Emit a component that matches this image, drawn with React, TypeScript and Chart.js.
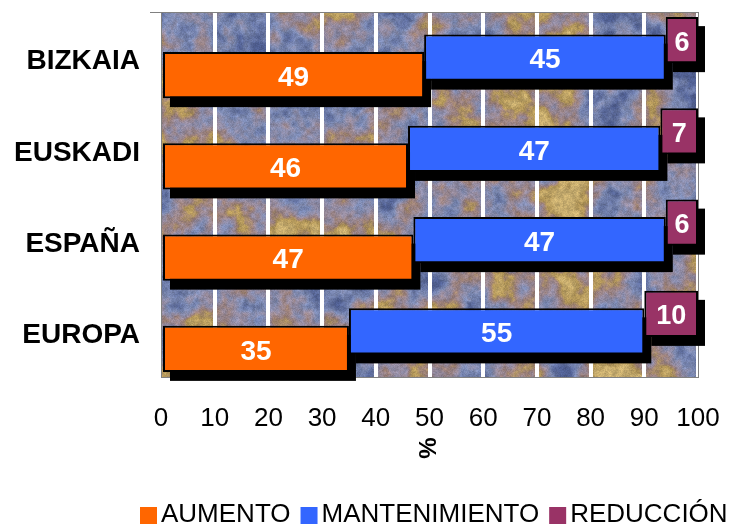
import React, { useEffect, useRef } from 'react';
import { Chart, registerables } from 'chart.js';

Chart.register(...registerables);

// ---- data ----
const categories = ['BIZKAIA', 'EUSKADI', 'ESPAÑA', 'EUROPA'];
const aumento = [49, 46, 47, 35];
const mantenimiento = [45, 47, 47, 55];
const reduccion = [6, 7, 6, 10];
const seriesNames = ['AUMENTO', 'MANTENIMIENTO', 'REDUCCIÓN'];
const seriesColors = ['#FF6600', '#3366FF', '#993366'];
const xTickMin = 0;
const xTickMax = 100;
const xTickStep = 10;
const axisTitle = '%';

const FONT = '"Liberation Sans", Arial, Helvetica, sans-serif';

// ---- decorative stone-like texture (deterministic value noise) ----
function hash(x: number, y: number, s: number) {
  const v = Math.sin(x * 127.1 + y * 311.7 + s * 74.7) * 43758.5453;
  return v - Math.floor(v);
}
function vnoise(x: number, y: number, s: number) {
  const ix = Math.floor(x), iy = Math.floor(y);
  const fx = x - ix, fy = y - iy;
  const ux = fx * fx * (3 - 2 * fx), uy = fy * fy * (3 - 2 * fy);
  const a = hash(ix, iy, s), b = hash(ix + 1, iy, s), c = hash(ix, iy + 1, s), d = hash(ix + 1, iy + 1, s);
  return a + (b - a) * ux + (c - a) * uy + (a - b - c + d) * ux * uy;
}
function fbm(x: number, y: number, s: number) {
  let v = 0, amp = 0.5, f = 1;
  for (let o = 0; o < 5; o++) {
    v += amp * vnoise(x * f, y * f, s + o * 13);
    f *= 2;
    amp *= 0.5;
  }
  return v / 0.96875;
}
const palette: [number, number, number, number][] = [
  [0.0, 80, 95, 145],
  [0.3, 125, 138, 178],
  [0.5, 148, 138, 158],
  [0.66, 155, 128, 122],
  [0.82, 178, 150, 88],
  [1.0, 198, 172, 110],
];
function paletteAt(t: number) {
  for (let i = 1; i < palette.length; i++) {
    if (t <= palette[i][0]) {
      const p0 = palette[i - 1], p1 = palette[i];
      const k = (t - p0[0]) / (p1[0] - p0[0]);
      return [p0[1] + (p1[1] - p0[1]) * k, p0[2] + (p1[2] - p0[2]) * k, p0[3] + (p1[3] - p0[3]) * k];
    }
  }
  const l = palette[palette.length - 1];
  return [l[1], l[2], l[3]];
}
let textureCache: HTMLCanvasElement | null = null;
function getTexture(w: number, h: number) {
  if (textureCache && textureCache.width === w && textureCache.height === h) return textureCache;
  const c = document.createElement('canvas');
  c.width = w;
  c.height = h;
  const cx = c.getContext('2d')!;
  const img = cx.createImageData(w, h);
  for (let y = 0; y < h; y++) {
    for (let x = 0; x < w; x++) {
      let t = 0.65 * fbm(x / 45, y / 45, 1) + 0.35 * fbm(x / 14, y / 14, 5);
      t = Math.max(0, Math.min(1, (t - 0.5) * 2.4 + 0.47));
      const col = paletteAt(t);
      const br = 0.84 + 0.32 * fbm(x / 4, y / 4, 7) + (hash(x, y, 3) - 0.5) * 0.14;
      const i = (y * w + x) * 4;
      img.data[i] = Math.min(255, col[0] * br);
      img.data[i + 1] = Math.min(255, col[1] * br);
      img.data[i + 2] = Math.min(255, col[2] * br);
      img.data[i + 3] = 255;
    }
  }
  cx.putImageData(img, 0, 0);
  textureCache = c;
  return c;
}

const texturePlugin = {
  id: 'texture',
  beforeDraw(chart: any) {
    const { left, top, right, bottom } = chart.chartArea;
    const w = Math.round(right - left), h = Math.round(bottom - top);
    chart.ctx.drawImage(getTexture(w, h), left, top);
  },
};

const shadowPlugin = {
  id: 'barShadow',
  beforeDatasetsDraw(chart: any) {
    const ctx = chart.ctx;
    const { left, top, right, bottom } = chart.chartArea;
    ctx.save();
    // plot border
    ctx.strokeStyle = '#808080';
    ctx.lineWidth = 1;
    ctx.strokeRect(Math.round(left) + 0.5, Math.round(top) + 0.5, Math.round(right - left), Math.round(bottom - top));
    ctx.beginPath();
    ctx.moveTo(left - 11, Math.round(top) + 0.5);
    ctx.lineTo(left, Math.round(top) + 0.5);
    ctx.stroke();
    // shadows
    ctx.fillStyle = '#000';
    chart.data.datasets.forEach((_ds: any, i: number) => {
      const meta = chart.getDatasetMeta(i);
      meta.data.forEach((el: any) => {
        const { x, y, base, height } = el.getProps(['x', 'y', 'base', 'height'], true);
        const l = Math.min(x, base), r = Math.max(x, base);
        ctx.fillRect(l + 7, y - height / 2 + 9, r - l, height);
      });
    });
    ctx.restore();
  },
};

const labelPlugin = {
  id: 'barLabels',
  afterDatasetsDraw(chart: any) {
    const ctx = chart.ctx;
    ctx.save();
    ctx.fillStyle = '#fff';
    ctx.textAlign = 'center';
    ctx.textBaseline = 'middle';
    chart.data.datasets.forEach((ds: any, i: number) => {
      const meta = chart.getDatasetMeta(i);
      ctx.font = `bold ${ds.labelSize}px ${FONT}`;
      meta.data.forEach((el: any, j: number) => {
        const { x, y, base } = el.getProps(['x', 'y', 'base'], true);
        ctx.fillText(String(ds.values[j]), (x + base) / 2, y + 3);
      });
    });
    ctx.restore();
  },
};

const extrasPlugin = {
  id: 'extras',
  afterDraw(chart: any) {
    const ctx = chart.ctx;
    const { left, right } = chart.chartArea;
    ctx.save();
    // rotated axis title
    ctx.fillStyle = '#000';
    ctx.font = `bold 24px ${FONT}`;
    ctx.textAlign = 'center';
    ctx.textBaseline = 'middle';
    ctx.translate((left + right) / 2, 448);
    ctx.rotate(-Math.PI / 2);
    ctx.fillText(axisTitle, 0, 0);
    ctx.restore();

    // legend
    ctx.save();
    ctx.font = `26px ${FONT}`;
    ctx.textBaseline = 'alphabetic';
    ctx.textAlign = 'left';
    let x = 140;
    const box = 17;
    seriesNames.forEach((name, i) => {
      ctx.fillStyle = seriesColors[i];
      ctx.fillRect(x, 507, box, box);
      x += box + 4;
      ctx.fillStyle = '#000';
      ctx.fillText(name, x, 521.5);
      x += ctx.measureText(name).width + 10;
    });
    ctx.restore();
  },
};

export default function App() {
  const ref = useRef<HTMLCanvasElement>(null);

  useEffect(() => {
    if (!ref.current) return;
    const orangeData = aumento.map((v) => [0, v]);
    const blueData = mantenimiento.map((v, i) => [aumento[i], aumento[i] + v]);
    const redData = reduccion.map((v, i) => [
      aumento[i] + mantenimiento[i],
      aumento[i] + mantenimiento[i] + v,
    ]);
    const common = {
      borderColor: '#000',
      borderWidth: 2,
      borderSkipped: false,
      categoryPercentage: 0.5753,
      barPercentage: 2.63,
      clip: false,
    };
    const chart = new Chart(ref.current, {
      type: 'bar',
      data: {
        labels: categories,
        datasets: [
          { ...common, label: seriesNames[2], data: redData, backgroundColor: seriesColors[2], values: reduccion, labelSize: 27 } as any,
          { ...common, label: seriesNames[1], data: blueData, backgroundColor: seriesColors[1], values: mantenimiento, labelSize: 28 } as any,
          { ...common, label: seriesNames[0], data: orangeData, backgroundColor: seriesColors[0], values: aumento, labelSize: 28 } as any,
        ],
      },
      options: {
        indexAxis: 'y',
        responsive: false,
        animation: false,
        events: [],
        layout: { padding: { top: 12, right: 44, left: 0, bottom: 0 } },
        plugins: {
          legend: { display: false },
          tooltip: { enabled: false },
        },
        scales: {
          x: {
            min: xTickMin,
            max: xTickMax,
            stacked: false,
            ticks: {
              stepSize: xTickStep,
              autoSkip: false,
              maxRotation: 0,
              color: '#000',
              padding: 26,
              font: { family: FONT, size: 26 },
            },
            grid: {
              color: (c: any) => (c.tick && c.tick.value === xTickMin ? 'rgba(0,0,0,0)' : '#ffffff'),
              lineWidth: 4,
              drawTicks: false,
            },
            border: { display: false },
            afterFit: (s: any) => {
              s.height = 147;
              s.paddingLeft = 0;
              s.paddingRight = 0;
            },
          },
          y: {
            stacked: false,
            ticks: {
              color: '#000',
              padding: 21,
              labelOffset: 4,
              font: { family: FONT, size: 28, weight: 'bold' },
            },
            grid: { display: false, drawTicks: false },
            border: { display: false },
            afterFit: (s: any) => {
              s.width = 161;
              s.paddingTop = 0;
              s.paddingBottom = 0;
            },
          },
        },
      } as any,
      plugins: [texturePlugin, shadowPlugin, labelPlugin, extrasPlugin],
    });
    return () => chart.destroy();
  }, []);

  return (
    <div style={{ position: 'fixed', left: 0, top: 0, width: 742, height: 524, background: '#fff' }}>
      <canvas ref={ref} width={742} height={524} style={{ display: 'block' }} />
    </div>
  );
}
